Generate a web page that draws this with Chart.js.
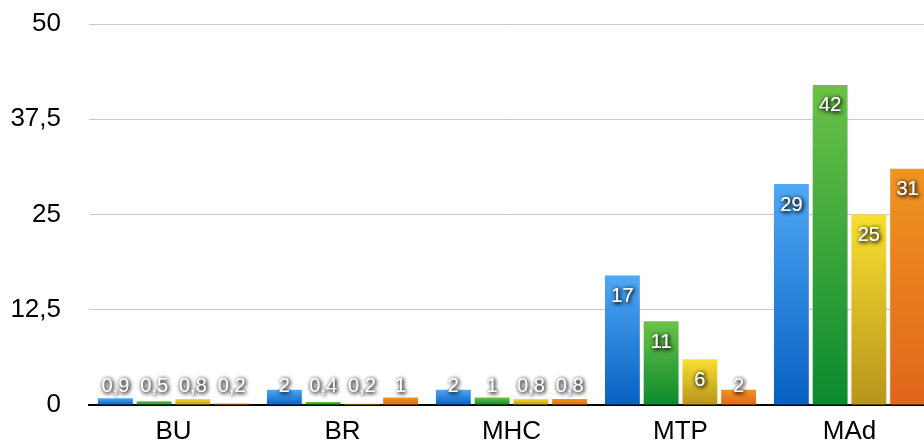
<!DOCTYPE html>
<html lang="en">
<head>
    <meta charset="UTF-8">
    <title>Bar chart</title>
    <style>
        body {
            margin: 0;
            overflow: hidden;
            background: #fff;
        }
        canvas { display: block; }
    </style>
    <script src="https://cdn.jsdelivr.net/npm/chart.js"></script>
</head>
<body>
    <canvas id="barChart" width="934" height="444"></canvas>

    <script>
        // Data
        const categories = ['BU', 'BR', 'MHC', 'MTP', 'MAd'];
        const seriesBlue = [0.9, 2, 2, 17, 29];
        const seriesGreen = [0.5, 0.4, 1, 11, 42];
        const seriesYellow = [0.8, 0.2, 0.8, 6, 25];
        const seriesOrange = [0.2, 1, 0.8, 2, 31];
        const yTicks = [0, 12.5, 25, 37.5, 50];

        const FONT = "'Liberation Sans', Helvetica, Arial, sans-serif";

        // top / bottom colours of each series gradient
        const palette = [
            ['#4ea8f4', '#0860c2'],
            ['#6cc247', '#0a8a2e'],
            ['#f8df31', '#b8941b'],
            ['#ef9521', '#e0651a']
        ];

        function fmt(v) {
            return String(v).replace('.', ',');
        }

        function barGradient(idx) {
            return function (ctx) {
                const chart = ctx.chart;
                const y = chart.scales.y;
                if (!y || ctx.raw === undefined) return palette[idx][1];
                const top = y.getPixelForValue(ctx.raw);
                const bottom = y.getPixelForValue(0);
                if (!isFinite(top) || !isFinite(bottom) || bottom - top < 1) return palette[idx][0];
                const g = chart.ctx.createLinearGradient(0, top, 0, bottom);
                g.addColorStop(0, palette[idx][0]);
                g.addColorStop(1, palette[idx][1]);
                return g;
            };
        }

        // white value labels with a dark halo, inside the top of the bar
        const valueLabels = {
            id: 'valueLabels',
            afterDatasetsDraw(chart) {
                const ctx = chart.ctx;
                const base = chart.scales.y.getPixelForValue(0);
                ctx.save();
                ctx.font = '20px ' + FONT;
                ctx.textAlign = 'center';
                ctx.textBaseline = 'middle';
                ctx.fillStyle = '#fff';
                ctx.shadowColor = 'rgba(0,0,0,0.9)';
                ctx.shadowBlur = 4;
                ctx.shadowOffsetX = 1;
                ctx.shadowOffsetY = 1;
                chart.data.datasets.forEach((ds, i) => {
                    chart.getDatasetMeta(i).data.forEach((bar, j) => {
                        const y = Math.min(bar.y + 21, base - 19);
                        // twice, so the halo gets darker
                        ctx.fillText(fmt(ds.data[j]), bar.x, y);
                        ctx.fillText(fmt(ds.data[j]), bar.x, y);
                    });
                });
                ctx.restore();
            }
        };

        const seriesList = [seriesBlue, seriesGreen, seriesYellow, seriesOrange];

        new Chart(document.getElementById('barChart'), {
            type: 'bar',
            data: {
                labels: categories,
                datasets: seriesList.map((s, i) => ({
                    data: s,
                    backgroundColor: barGradient(i),
                    borderWidth: 0,
                    categoryPercentage: 0.917,
                    barPercentage: 0.9
                }))
            },
            options: {
                responsive: false,
                animation: false,
                layout: { padding: 0 },
                plugins: {
                    legend: { display: false },
                    tooltip: { enabled: false }
                },
                scales: {
                    x: {
                        grid: { display: false, drawTicks: false },
                        border: { color: '#000', width: 2 },
                        ticks: {
                            color: '#000',
                            font: { family: FONT, size: 26, lineHeight: 1 },
                            padding: 14
                        },
                        afterFit(scale) { scale.height = 39; }
                    },
                    y: {
                        min: 0,
                        max: 50,
                        border: { display: false },
                        grid: {
                            color: '#c8c8c8',
                            lineWidth: 1,
                            drawTicks: true,
                            tickLength: 28,
                            tickColor: 'rgba(0,0,0,0)'
                        },
                        afterBuildTicks(scale) {
                            scale.ticks = yTicks.map(v => ({ value: v }));
                        },
                        ticks: {
                            color: '#000',
                            font: { family: FONT, size: 26, lineHeight: 48 / 26 },
                            padding: 0,
                            callback: v => fmt(v)
                        },
                        afterFit(scale) { scale.width = 89; }
                    }
                }
            },
            plugins: [valueLabels]
        });
    </script>
</body>
</html>
